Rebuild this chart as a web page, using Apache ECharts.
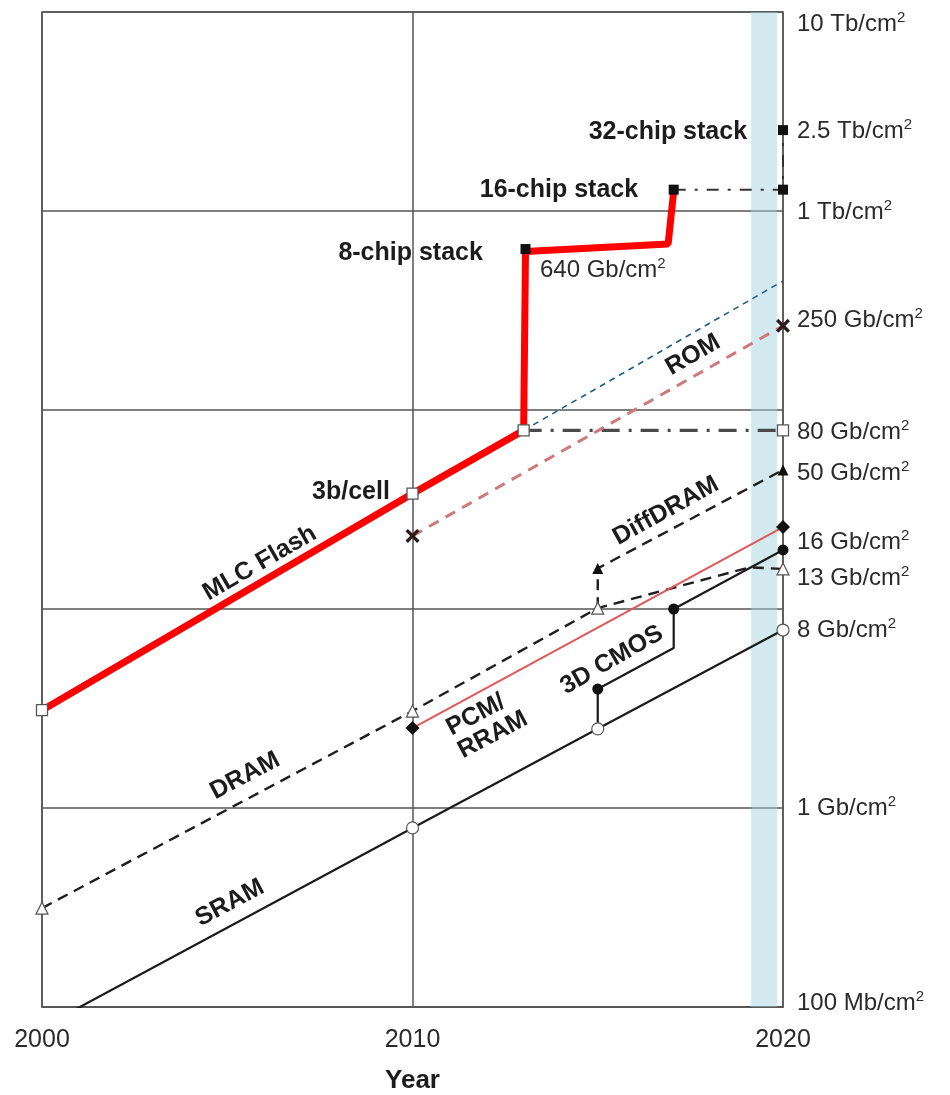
<!DOCTYPE html>
<html>
<head>
<meta charset="utf-8">
<script src="https://cdn.jsdelivr.net/npm/echarts@6/dist/echarts.min.js"></script>
<style>
html,body{margin:0;padding:0;background:#fff;}
#c{width:950px;height:1095px;}
</style>
</head>
<body>
<div id="c"></div>
<script>
// ---------- data ----------
const xTicks = [2000, 2010, 2020];

const mlcYears  = [2000, 2010, 2013, 2013.05, 2016.9, 2017.05];
const mlcValues = [3.1, 38, 79, 625, 683, 1260];

const flash80Years  = [2013, 2020];
const flash80Values = [79, 79];

const flashTrendYears  = [2013, 2020];
const flashTrendValues = [79, 445];

const stackYears  = [2017.05, 2020, 2020];
const stackValues = [1280, 1280, 2550];

const stackMarkYears  = [2013.05, 2017.05, 2020, 2020];
const stackMarkValues = [644, 1280, 1280, 2550];

const flashMarkYears  = [2000, 2010, 2013, 2020];
const flashMarkValues = [3.1, 38, 79, 79];

const romYears  = [2010, 2020];
const romValues = [23.3, 265];

const dramYears  = [2000, 2010, 2015, 2019.1, 2020];
const dramValues = [0.314, 3.07, 10.1, 16.2, 15.9];

const dramMarkYears  = [2000, 2010, 2015, 2020];
const dramMarkValues = [0.314, 3.07, 10.1, 15.9];

const diffDramYears  = [2015, 2015, 2020];
const diffDramValues = [10.1, 16.0, 50];

const diffDramMarkYears  = [2015, 2020];
const diffDramMarkValues = [16.0, 50];

const pcmYears  = [2010, 2020];
const pcmValues = [2.52, 25.8];

const sramYears  = [2000, 2010, 2015, 2020];
const sramValues = [0.079, 0.794, 2.5, 7.84];

const sramMarkYears  = [2010, 2015, 2020];
const sramMarkValues = [0.794, 2.5, 7.84];

const cmosYears  = [2015, 2015, 2017.05, 2017.05, 2020];
const cmosValues = [2.5, 3.96, 6.37, 10, 19.8];

const cmosMarkYears  = [2015, 2017.05, 2020];
const cmosMarkValues = [3.96, 10, 19.8];

const bandYears = [2019.14, 2019.84];

const rightLabelText   = ['10 Tb/cm', '2.5 Tb/cm', '1 Tb/cm', '250 Gb/cm', '80 Gb/cm', '50 Gb/cm', '16 Gb/cm', '13 Gb/cm', '8 Gb/cm', '1 Gb/cm', '100 Mb/cm'];
const rightLabelValues = [8700, 2520, 988, 283, 77.5, 48.2, 21.5, 14.3, 7.84, 1, 0.104];

// annotation texts
const annoText   = ['MLC Flash', '3b/cell', '8-chip stack', '640 Gb/cm', '16-chip stack', '32-chip stack', 'ROM', 'DiffDRAM', 'DRAM', 'SRAM', 'PCM/', 'RRAM', '3D CMOS'];
const annoYears  = [2005.88, 2009.39, 2011.9, 2013.44, 2016.09, 2019.03, 2017.57, 2016.84, 2005.48, 2005.07, 2011.71, 2012.17, 2015.38];
const annoValues = [17.0, 38.7, 615, 505, 1276, 2495, 189, 31.1, 1.45, 0.333, 2.93, 2.33, 5.54];

// ---------- helpers ----------
const zip = (xs, ys) => xs.map((x, i) => [x, ys[i]]);
const FONT = '"Liberation Sans", Arial, sans-serif';

// annotation layout (rotation / anchor side / weight)
const annoStyle = [
  {rot: 30, pos: 'inside', bold: true},
  {rot: 0, pos: 'left', bold: true},
  {rot: 0, pos: 'left', bold: true},
  {rot: 0, pos: 'right', bold: false, sup: true},
  {rot: 0, pos: 'left', bold: true},
  {rot: 0, pos: 'left', bold: true},
  {rot: 30, pos: 'inside', bold: true},
  {rot: 29, pos: 'inside', bold: true},
  {rot: 28, pos: 'inside', bold: true},
  {rot: 28, pos: 'inside', bold: true},
  {rot: 28, pos: 'inside', bold: true},
  {rot: 28, pos: 'inside', bold: true},
  {rot: 30, pos: 'inside', bold: true}
];

const supRich = {
  a: {fontSize: 24, color: '#2b2b2b', fontFamily: FONT, lineHeight: 28},
  s: {fontSize: 15, color: '#2b2b2b', fontFamily: FONT, lineHeight: 15, verticalAlign: 'top'}
};

function lineSeries(name, xs, ys, color, width, type, z) {
  return {
    name, type: 'line', data: zip(xs, ys), symbol: 'none', z: z || 3,
    lineStyle: {color, width, type: type || 'solid'},
    animation: false, silent: true
  };
}
function markSeries(name, xs, ys, symbol, size, fill, stroke, bw) {
  return {
    name, type: 'scatter', data: zip(xs, ys), symbol, symbolSize: size, z: 6,
    itemStyle: {color: fill, borderColor: stroke, borderWidth: bw || 0, opacity: 1},
    animation: false, silent: true
  };
}

const xSymbol = 'path://M0,1.7 L1.7,0 L5,3.3 L8.3,0 L10,1.7 L6.7,5 L10,8.3 L8.3,10 L5,6.7 L1.7,10 L0,8.3 L3.3,5 Z';

const series = [
  // light blue band
  {
    name: 'band', type: 'line', data: [], z: 20, clip: false, silent: true, animation: false,
    markArea: {
      silent: true,
      itemStyle: {color: 'rgba(160,208,222,0.48)'},
      data: [[{xAxis: bandYears[0], yAxis: 0.1}, {xAxis: bandYears[1], yAxis: 10000}]]
    }
  },
  lineSeries('flashTrend', flashTrendYears, flashTrendValues, '#1d5d86', 1.6, [6, 5], 2),
  lineSeries('flash80', flash80Years, flash80Values, '#4a4a4a', 3.2, [18, 9, 3, 9], 2),
  lineSeries('stack', stackYears, stackValues, '#333', 2, [12, 9, 3, 9], 2),
  lineSeries('ROM', romYears, romValues, '#cc7a7a', 3, [11, 8], 2),
  lineSeries('DRAM', dramYears, dramValues, '#1e1e1e', 2.4, [11, 7], 2),
  lineSeries('DiffDRAM', diffDramYears, diffDramValues, '#1e1e1e', 2.4, [11, 7], 2),
  lineSeries('PCM/RRAM', pcmYears, pcmValues, '#e0585a', 2, 'solid', 2),
  lineSeries('SRAM', sramYears, sramValues, '#1a1a1a', 2.2, 'solid', 2),
  lineSeries('3D CMOS', cmosYears, cmosValues, '#1a1a1a', 2.2, 'solid', 2),
  lineSeries('MLC Flash', mlcYears, mlcValues, '#ff0000', 7, 'solid', 4),

  markSeries('stackMarks', stackMarkYears, stackMarkValues, 'rect', 10, '#111', '#111', 0),
  markSeries('flashMarks', flashMarkYears, flashMarkValues, 'rect', 11, '#fff', '#555', 1.3),
  markSeries('romMarks', romYears, romValues, xSymbol, 14, '#2e1a1a', '#2e1a1a', 0),
  markSeries('dramMarks', dramMarkYears, dramMarkValues, 'triangle', 12, '#fff', '#555', 1.2),
  markSeries('diffDramMarks', diffDramMarkYears, diffDramMarkValues, 'triangle', 11, '#111', '#111', 0),
  markSeries('pcmMarks', pcmYears, pcmValues, 'diamond', 14, '#111', '#111', 0),
  markSeries('sramMarks', sramMarkYears, sramMarkValues, 'circle', 12, '#fff', '#555', 1.2),
  markSeries('cmosMarks', cmosMarkYears, cmosMarkValues, 'circle', 11, '#111', '#111', 0),

  // right-side value labels
  {
    name: 'rightLabels', type: 'scatter', symbolSize: 0, z: 30, clip: false,
    animation: false, silent: true, itemStyle: {opacity: 1},
    data: rightLabelText.map((t, i) => ({value: [2020, rightLabelValues[i]], txt: t})),
    label: {
      show: true, position: 'right', distance: 14,
      formatter: p => '{a|' + p.data.txt + '}{s|2}',
      rich: supRich
    }
  },

  // in-chart annotations
  {
    name: 'annotations', type: 'scatter', symbolSize: 0, z: 30, clip: false,
    animation: false, silent: true, itemStyle: {opacity: 1},
    data: annoText.map((t, i) => {
      const st = annoStyle[i];
      return {
        value: [annoYears[i], annoValues[i]],
        label: {
          show: true,
          position: st.pos,
          distance: 0,
          rotate: st.rot,
          formatter: st.sup ? '{a|' + t + '}{s|2}' : t,
          rich: st.sup ? supRich : undefined,
          fontFamily: FONT,
          fontSize: st.bold ? 25 : 24,
          fontWeight: st.bold ? 'bold' : 'normal',
          color: st.bold ? '#1c1c1c' : '#2b2b2b'
        }
      };
    })
  }
];

const chart = echarts.init(document.getElementById('c'), null, {renderer: 'canvas'});
chart.setOption({
  backgroundColor: '#fff',
  animation: false,
  textStyle: {fontFamily: FONT},
  grid: {left: 42, right: 167, top: 12, bottom: 88, show: true, borderColor: '#555', borderWidth: 1.5, backgroundColor: 'transparent', containLabel: false, outerBoundsMode: 'none'},
  xAxis: {
    type: 'value', min: xTicks[0], max: xTicks[xTicks.length - 1], interval: 10,
    axisLine: {show: true, lineStyle: {color: '#555', width: 1.5}},
    axisTick: {show: false},
    splitLine: {show: true, lineStyle: {color: '#555', width: 1.5}},
    axisLabel: {
      color: '#2b2b2b', fontSize: 25, margin: 21, fontFamily: FONT,
      formatter: v => xTicks.includes(v) ? String(v) : ''
    },
    name: 'Year', nameLocation: 'middle', nameGap: 61,
    nameTextStyle: {fontSize: 26, fontWeight: 'bold', color: '#1c1c1c', fontFamily: FONT}
  },
  yAxis: {
    type: 'log', logBase: 10, min: 0.1, max: 10000,
    axisLine: {show: false},
    axisTick: {show: false},
    axisLabel: {show: false},
    splitLine: {show: true, lineStyle: {color: '#555', width: 1.5}},
    minorSplitLine: {show: false}
  },
  series
});
</script>
</body>
</html>
